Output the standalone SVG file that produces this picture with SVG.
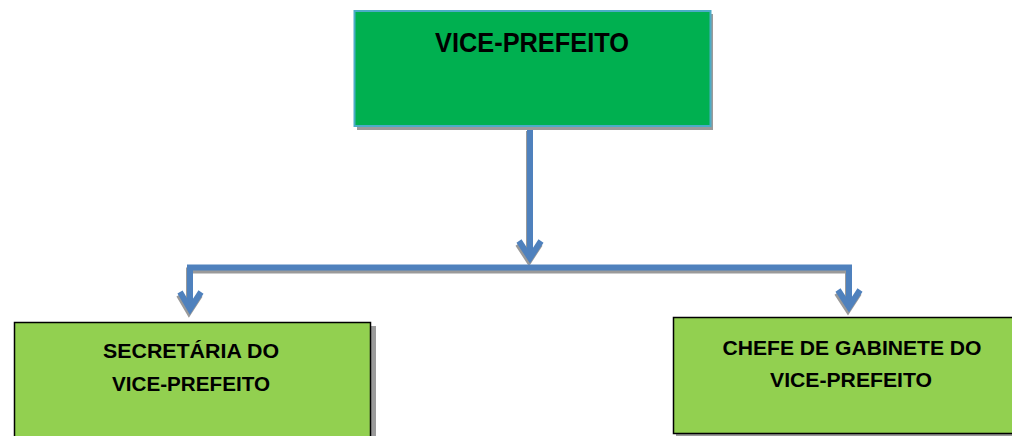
<svg xmlns="http://www.w3.org/2000/svg" width="1012" height="436" viewBox="0 0 1012 436">
<defs>
<style>
.lbl{font-family:"Liberation Sans",Arial,sans-serif;font-weight:bold;fill:#000;text-anchor:middle}
.conn{fill:none;stroke:#4f81bd;stroke-width:6;stroke-linejoin:miter}
.shd{fill:none;stroke:#9a9a9a;stroke-width:6;stroke-linejoin:miter}
.head{fill:none;stroke:#4f81bd;stroke-width:6;stroke-linejoin:miter;stroke-linecap:butt}
.headshd{fill:none;stroke:#9a9a9a;stroke-width:6;stroke-linejoin:miter}
</style>
</defs>
<rect width="1012" height="436" fill="#fff"/>
<g id="connectors">
<g transform="translate(-1,3)">
<path class="shd" d="M530 128 V258"/>
<path class="shd" d="M190 309 V267.5 H849 V307"/>
<path class="headshd" d="M519 241 L530 258 L541 241"/>
<path class="headshd" d="M180 292 L190 309 L201 292"/>
<path class="headshd" d="M838 290 L849 307 L860 290"/>
</g>
<path class="conn" d="M530 128 V258"/>
<path class="conn" d="M190 309 V267.5 H849 V307"/>
<path class="head" d="M519 241 L530 258 L541 241"/>
<path class="head" d="M180 292 L190 309 L201 292"/>
<path class="head" d="M838 290 L849 307 L860 290"/>
</g>
<g id="vice-prefeito">
<rect x="357" y="14" width="356" height="116" fill="#9a9a9a"/>
<rect x="354.5" y="11" width="356" height="115" fill="#00b050" stroke="#4bacc6" stroke-width="2"/>
<text class="lbl" x="532" y="52" font-size="27.5" textLength="194" lengthAdjust="spacingAndGlyphs">VICE-PREFEITO</text>
</g>
<g id="secretaria">
<rect x="18" y="326" width="358" height="120" fill="#9a9a9a"/>
<rect x="14.5" y="322.5" width="356" height="120" fill="#92d050" stroke="#000" stroke-width="1.5"/>
<text class="lbl" x="191" y="358" font-size="21" textLength="176" lengthAdjust="spacingAndGlyphs">SECRETÁRIA DO</text>
<text class="lbl" x="191" y="391" font-size="21" textLength="158" lengthAdjust="spacingAndGlyphs">VICE-PREFEITO</text>
</g>
<g id="chefe-gabinete">
<rect x="676" y="320" width="340" height="117" fill="#9a9a9a"/>
<rect x="673.5" y="317.5" width="344" height="116" fill="#92d050" stroke="#000" stroke-width="1.5"/>
<text class="lbl" x="852" y="355" font-size="21" textLength="259" lengthAdjust="spacingAndGlyphs">CHEFE DE GABINETE DO</text>
<text class="lbl" x="851" y="387" font-size="21" textLength="162" lengthAdjust="spacingAndGlyphs">VICE-PREFEITO</text>
</g>
</svg>
